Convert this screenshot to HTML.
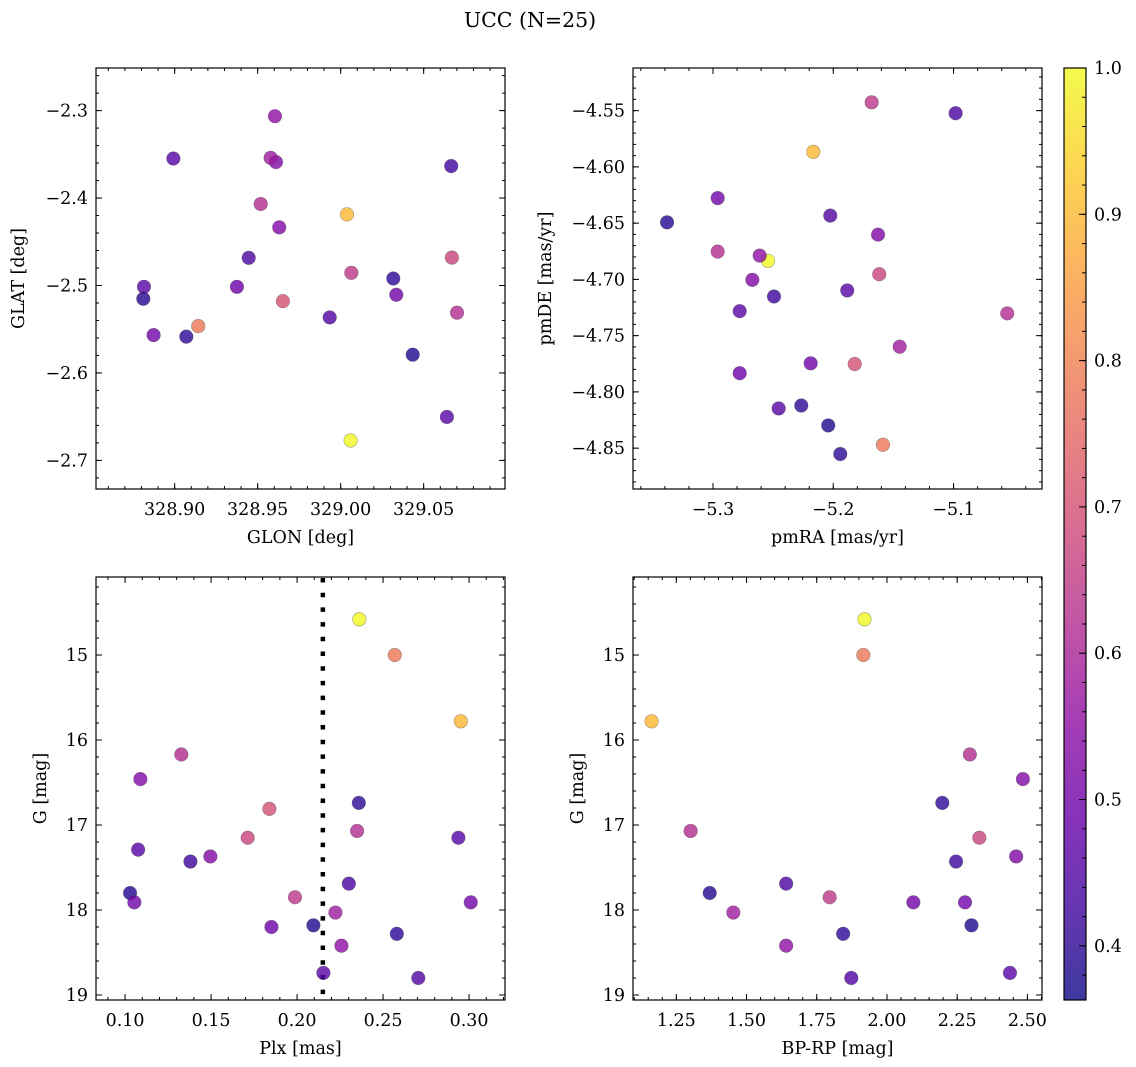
<!DOCTYPE html>
<html><head><meta charset="utf-8"><style>
html,body{margin:0;padding:0;background:#fff;}
svg{display:block;font-family:"DejaVu Serif","Liberation Serif",serif;}
</style></head><body>
<svg id="fig" width="1136" height="1067" viewBox="0 0 1136 1067" xmlns="http://www.w3.org/2000/svg">
<defs>
<linearGradient id="plasma" x1="0" y1="1" x2="0" y2="0">
<stop offset="0" stop-color="#0d0887"/><stop offset="0.1" stop-color="#41049d"/><stop offset="0.2" stop-color="#6a00a8"/><stop offset="0.3" stop-color="#8f0da4"/><stop offset="0.4" stop-color="#b12a90"/><stop offset="0.5" stop-color="#cc4778"/><stop offset="0.6" stop-color="#e16462"/><stop offset="0.7" stop-color="#f2844b"/><stop offset="0.8" stop-color="#fca636"/><stop offset="0.9" stop-color="#fcce25"/><stop offset="1" stop-color="#f0f921"/>
</linearGradient>
</defs>
<text x="530" y="27" font-size="20.5" text-anchor="middle">UCC (N=25)</text>
</svg>
<script>
// Star data (per member)
const probs = [1.0,0.78,0.9,0.62,0.53,0.70,0.40,0.62,0.67,0.46,0.46,0.42,0.53,0.39,0.50,0.64,0.44,0.58,0.50,0.49,0.38,0.40,0.55,0.46,0.45];
const glon = [329.0060,328.9142,329.0038,328.9518,328.9610,328.9652,329.0317,329.0701,329.0670,328.8992,328.8815,329.0666,328.9630,328.8811,328.8873,329.0064,328.9446,328.9578,329.0335,328.9375,329.0434,328.9070,328.9604,329.0640,328.9934];
const glat = [-2.6772,-2.5464,-2.4187,-2.4068,-2.3589,-2.5179,-2.4920,-2.5311,-2.4681,-2.3548,-2.5015,-2.3634,-2.4335,-2.5152,-2.5567,-2.4855,-2.4684,-2.3540,-2.5106,-2.5015,-2.5791,-2.5585,-2.3064,-2.6503,-2.5365];
const pmra = [-5.2543,-5.1587,-5.2166,-5.2961,-5.1628,-5.1822,-5.2266,-5.0554,-5.1618,-5.1884,-5.2778,-5.2493,-5.2673,-5.3382,-5.2188,-5.1681,-5.0983,-5.1448,-5.2961,-5.2778,-5.2042,-5.1942,-5.2612,-5.2454,-5.2025];
const pmde = [-4.6835,-4.8470,-4.5866,-4.6753,-4.6602,-4.7752,-4.8121,-4.7302,-4.6954,-4.7098,-4.7282,-4.7152,-4.7004,-4.6493,-4.7746,-4.5426,-4.5523,-4.7598,-4.6277,-4.7834,-4.8298,-4.8552,-4.6788,-4.8147,-4.6433];
const plx = [0.2362,0.2568,0.2952,0.1327,0.1089,0.1839,0.2359,0.2349,0.1713,0.2938,0.1076,0.1380,0.1496,0.1029,0.1054,0.1988,0.2301,0.2223,0.3010,0.1851,0.2095,0.2580,0.2258,0.2153,0.2705];
const gmag = [14.58,15.00,15.78,16.17,16.46,16.81,16.74,17.07,17.15,17.15,17.29,17.43,17.37,17.80,17.91,17.85,17.69,18.03,17.91,18.20,18.18,18.28,18.42,18.74,18.80];
const bprp = [1.920,1.916,1.162,2.295,2.484,null,2.197,1.301,2.329,null,null,2.246,2.460,1.369,2.094,1.796,1.641,1.453,2.278,null,2.301,1.844,1.641,2.438,1.873];
const plxCut = 0.215;
const cbTicks = [0.4,0.5,0.6,0.7,0.8,0.9,1.0];
const glonTicks = [328.90,328.95,329.00,329.05];
const glatTicks = [-2.3,-2.4,-2.5,-2.6,-2.7];
const pmraTicks = [-5.3,-5.2,-5.1];
const pmdeTicks = [-4.55,-4.60,-4.65,-4.70,-4.75,-4.80,-4.85];
const plxTicks = [0.10,0.15,0.20,0.25,0.30];
const gTicks = [15,16,17,18,19];
const bprpTicks = [1.25,1.50,1.75,2.00,2.25,2.50];

const NS='http://www.w3.org/2000/svg';
const svg=document.getElementById('fig');
const FS=17.5;
function el(tag,attrs,parent){const e=document.createElementNS(NS,tag);for(const k in attrs)e.setAttribute(k,attrs[k]);(parent||svg).appendChild(e);return e;}
const PL=[[0,[13,8,135]],[0.1,[65,4,157]],[0.2,[106,0,168]],[0.3,[143,13,164]],[0.4,[177,42,144]],[0.5,[204,71,120]],[0.6,[225,100,98]],[0.7,[242,132,75]],[0.8,[252,166,54]],[0.9,[252,206,37]],[1,[240,249,33]]];
const CMIN=0.363,CMAX=1.0;
function cmap(p){let t=Math.max(0,Math.min(1,(p-CMIN)/(CMAX-CMIN)));for(let i=0;i<PL.length-1;i++){if(t<=PL[i+1][0]){const f=(t-PL[i][0])/(PL[i+1][0]-PL[i][0]);const c=PL[i][1].map((v,j)=>Math.round(v+f*(PL[i+1][1][j]-v)));return `rgb(${c.join(',')})`;}}return 'rgb(240,249,33)';}
function lin(d0,d1,r0,r1){return v=>r0+(v-d0)/(d1-d0)*(r1-r0);}
function fmt(v,dec){return (v<0?'\u2212':'')+Math.abs(v).toFixed(dec);}

function panel(name,box,xd,yd,xt,yt,xdec,ydec,xminor,yminor,xlab,ylab,xs,ys,yoff){
  const g=el('g',{});
  
  
  const [L,T,R,B]=box;
  const sx=lin(xd[0],xd[1],L,R), sy=lin(yd[0],yd[1],B,T);
  const marks=el('g',{},g);
  
  
  const ax=el('g',{stroke:'#000','stroke-width':1},g);
  
  
  const xlo=Math.min(...xd),xhi=Math.max(...xd),ylo=Math.min(...yd),yhi=Math.max(...yd);
  for(let v=Math.ceil(xlo/xminor)*xminor;v<=xhi;v+=xminor){const x=sx(v);el('line',{x1:x,x2:x,y1:B,y2:B-3},ax);el('line',{x1:x,x2:x,y1:T,y2:T+3},ax);}
  for(let v=Math.ceil(ylo/yminor)*yminor;v<=yhi;v+=yminor){const y=sy(v);el('line',{x1:L,x2:L+3,y1:y,y2:y},ax);el('line',{x1:R,x2:R-3,y1:y,y2:y},ax);}
  xt.forEach(v=>{const x=sx(v);el('line',{x1:x,x2:x,y1:B,y2:B-6},ax);el('line',{x1:x,x2:x,y1:T,y2:T+6},ax);
    const t=el('text',{x:x,y:B+26,'font-size':FS,'text-anchor':'middle'},g);t.textContent=fmt(v,xdec);
    });
  yt.forEach(v=>{const y=sy(v);el('line',{x1:L,x2:L+6,y1:y,y2:y},ax);el('line',{x1:R,x2:R-6,y1:y,y2:y},ax);
    const t=el('text',{x:L-8,y:y+6,'font-size':FS,'text-anchor':'end'},g);t.textContent=fmt(v,ydec);
    });
  const fr=el('rect',{x:L,y:T,width:R-L,height:B-T,fill:'none',stroke:'#000','stroke-width':1.2},g);
  
  const xl=el('text',{x:(L+R)/2,y:B+54,'font-size':FS,'text-anchor':'middle'},g);xl.textContent=xlab;
  
  const yx=L-yoff;
  const yl=el('text',{x:yx,y:(T+B)/2,'font-size':FS,'text-anchor':'middle',transform:`rotate(-90 ${yx} ${(T+B)/2})`},g);yl.textContent=ylab;
  
  for(let i=0;i<probs.length;i++){
    if(xs[i]===null||ys[i]===null)continue;
    const c=el('circle',{cx:sx(xs[i]),cy:sy(ys[i]),r:6.8,fill:cmap(probs[i]),'fill-opacity':0.8,stroke:'rgba(60,60,60,0.45)','stroke-width':0.6},marks);
    
    
  }
  return {sx,sy,g,marks};
}
const P1=panel('glon-glat-panel',[96,68,505,489],[328.8526,329.099],[-2.7327,-2.2513],glonTicks,glatTicks,2,1,0.01,0.02,'GLON [deg]','GLAT [deg]',glon,glat,72);
const P2=panel('pm-panel',[633,68,1042,489],[-5.3665,-5.0265],[-4.8863,-4.5121],pmraTicks,pmdeTicks,1,2,0.02,0.01,'pmRA [mas/yr]','pmDE [mas/yr]',pmra,pmde,82);
const P3=panel('plx-g-panel',[96,577,505,1000],[0.0831,0.3209],[19.059,14.082],plxTicks,gTicks,2,0,0.01,0.2,'Plx [mas]','G [mag]',plx,gmag,50);
const P4=panel('cmd-panel',[633,577,1042,1000],[1.0958,2.552],[19.059,14.082],bprpTicks,gTicks,2,0,0.05,0.2,'BP-RP [mag]','G [mag]',bprp,gmag,50);
const cut=el('line',{x1:P3.sx(plxCut),x2:P3.sx(plxCut),y1:578,y2:1000,stroke:'#000','stroke-width':4.5,'stroke-dasharray':'4.5 10.2'});


P3.g.insertBefore(cut,P3.marks);
const cb=el('g',{});


el('rect',{x:1064,y:68,width:22,height:932,fill:'url(#plasma)','fill-opacity':0.8},cb);
el('rect',{x:1064,y:68,width:22,height:932,fill:'none',stroke:'#000','stroke-width':1.2},cb);
const cy=lin(CMIN,CMAX,1000,68);
for(let v=0.38;v<=1.0001;v+=0.02){const y=cy(v);el('line',{x1:1086,x2:1082,y1:y,y2:y,stroke:'#000','stroke-width':1},cb);}
cbTicks.forEach(v=>{const y=cy(v);el('line',{x1:1086,x2:1079,y1:y,y2:y,stroke:'#000','stroke-width':1},cb);
  const t=el('text',{x:1094,y:y+6,'font-size':FS},cb);t.textContent=v.toFixed(1);
  });
</script>
</body></html>
